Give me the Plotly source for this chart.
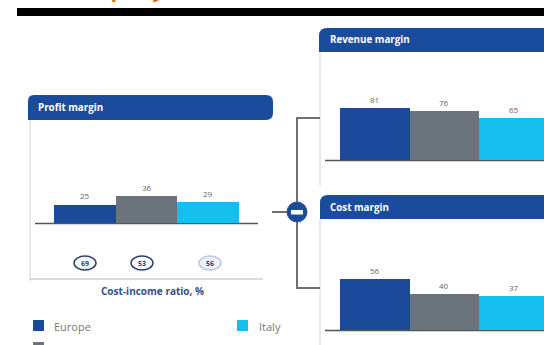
import plotly.graph_objects as go

# ---- data ----
series = ["Europe", "Peers", "Italy"]
colors = ["#1b4a9b", "#6b737c", "#14bfee"]
profit_margin = [25, 36, 29]
revenue_margin = [81, 76, 65]
cost_margin = [56, 40, 37]
cost_income_ratio = [69, 53, 56]

W, H = 544, 345
BLUE = "#1b4c9c"
FONT = "Open Sans"


def fx(x):
    return x / W


def fy(y):
    return 1 - y / H


fig = go.Figure()

# three bar panels, each on its own pair of axes
panels = [
    ("x", "y", profit_margin),
    ("x2", "y2", revenue_margin),
    ("x3", "y3", cost_margin),
]
for xa, ya, vals in panels:
    fig.add_trace(go.Bar(
        x=[0, 1, 2], y=vals, marker=dict(color=colors, line=dict(width=0)),
        xaxis=xa, yaxis=ya, showlegend=False, hoverinfo="skip",
    ))

hidden = dict(visible=False, showgrid=False, zeroline=False, fixedrange=True)
right_span = -0.5 + (544 - 340) / 69.5
fig.update_layout(
    width=W, height=H, margin=dict(l=0, r=0, t=0, b=0),
    paper_bgcolor="white", plot_bgcolor="rgba(0,0,0,0)", bargap=0,
    font=dict(family=FONT, color="#555"),
    xaxis=dict(domain=[fx(54), fx(239)], range=[-0.5, 2.5], anchor="y", **hidden),
    yaxis=dict(domain=[fy(223), fy(150)], range=[0, 73 / 0.74], anchor="x", **hidden),
    xaxis2=dict(domain=[fx(340), 1], range=[-0.5, right_span], anchor="y2", **hidden),
    yaxis2=dict(domain=[fy(160), fy(60)], range=[0, 100 / 0.64], anchor="x2", **hidden),
    xaxis3=dict(domain=[fx(340), 1], range=[-0.5, right_span], anchor="y3", **hidden),
    yaxis3=dict(domain=[fy(330), fy(225)], range=[0, 105 / 0.91], anchor="x3", **hidden),
)

ann = []


def label(x, y, text, size, color, xanchor="center", yanchor="middle"):
    ann.append(dict(x=fx(x), y=fy(y), xref="paper", yref="paper", text=text,
                    showarrow=False, xanchor=xanchor, yanchor=yanchor,
                    font=dict(size=size, color=color)))


# value labels above each bar
for xr, yr, vals in [("x", "y", profit_margin), ("x2", "y2", revenue_margin), ("x3", "y3", cost_margin)]:
    for i, v in enumerate(vals):
        ann.append(dict(x=i, y=v, xref=xr, yref=yr, text=str(v), showarrow=False,
                        xanchor="center", yanchor="bottom", yshift=1,
                        font=dict(size=8, color="#666")))

shapes = []


def line(x0, y0, x1, y1, color, width):
    shapes.append(dict(type="line", xref="paper", yref="paper",
                       x0=fx(x0), y0=fy(y0), x1=fx(x1), y1=fy(y1),
                       line=dict(color=color, width=width), layer="below"))


def rect(x0, y0, x1, y1, color):
    shapes.append(dict(type="rect", xref="paper", yref="paper",
                       x0=fx(x0), y0=fy(y0), x1=fx(x1), y1=fy(y1),
                       fillcolor=color, line=dict(width=0)))


def header(x0, y0, x1, y1, r_tl, r_tr, r_br):
    p = (f"M {fx(x0)} {fy(y1)} L {fx(x0)} {fy(y0 + r_tl)} "
         f"Q {fx(x0)} {fy(y0)} {fx(x0 + r_tl)} {fy(y0)} "
         f"L {fx(x1 - r_tr)} {fy(y0)} Q {fx(x1)} {fy(y0)} {fx(x1)} {fy(y0 + r_tr)} "
         f"L {fx(x1)} {fy(y1 - r_br)} Q {fx(x1)} {fy(y1)} {fx(x1 - r_br)} {fy(y1)} Z")
    shapes.append(dict(type="path", xref="paper", yref="paper", path=p,
                       fillcolor=BLUE, line=dict(width=0)))


# top rule
rect(17, 8, 544, 16, "black")

# panel frames
line(30, 120, 30, 281, "#d4d4d4", 1)
line(30, 279, 263, 279, "#b8b8b8", 1)
line(320, 52, 320, 186, "#d4d4d4", 1)
line(320, 219, 320, 345, "#d4d4d4", 1)

# bar baselines
line(35, 223.5, 258, 223.5, "#555", 1.5)
line(325, 160.5, 544, 160.5, "#555", 1.5)
line(325, 330.5, 544, 330.5, "#555", 1.5)

# headers
header(28, 95, 273, 120, 6, 7, 7)
header(319, 28, 560, 52, 8, 0, 0)
header(320, 195, 560, 219, 8, 0, 0)
label(36, 107.5, "<b>Profit margin</b>", 9.8, "white", xanchor="left")
label(328, 40, "<b>Revenue margin</b>", 9.8, "white", xanchor="left")
label(328, 207, "<b>Cost margin</b>", 9.8, "white", xanchor="left")

# bracket connecting the two right panels, with the minus node
line(297, 118, 297, 288, "#707070", 2)
line(296, 118, 320, 118, "#707070", 2)
line(296, 288, 320, 288, "#707070", 2)
line(272, 212, 288, 212, "#707070", 2)
shapes.append(dict(type="circle", xref="paper", yref="paper",
                   x0=fx(287), y0=fy(222), x1=fx(307), y1=fy(202),
                   fillcolor=BLUE, line=dict(color="#2c4f93", width=1)))
rect(291, 210, 303, 214.5, "white")

# cost-income ratio badges
cx = [85, 142, 210]
for i, (c, v) in enumerate(zip(cx, cost_income_ratio)):
    light = i == 2
    shapes.append(dict(type="circle", xref="paper", yref="paper",
                       x0=fx(c - 11), y0=fy(270), x1=fx(c + 11), y1=fy(256),
                       fillcolor="#eef3fb" if light else "white",
                       line=dict(color="#b9c8e6" if light else "#2d3f72", width=1.5)))
    label(c, 263, f"<b>{v}</b>", 7, "#2d3f72")
label(152, 291, "<b>Cost-income ratio, %</b>", 10, "#34508c")

# legend
legend_pos = [(33, 320, 52), (237, 320, 257), (33, 342, 52)]
order = [0, 2, 1]
for (lx, ly, tx), k in zip(legend_pos, order):
    rect(lx, ly, lx + 11, ly + 11, colors[k])
    label(tx, ly + 6, series[k], 11, "#777", xanchor="left")

# page title running off the top edge
label(62, 5, "<b>company</b>", 22, "#f26b1d", xanchor="left", yanchor="bottom")

fig.update_layout(shapes=shapes, annotations=ann)
fig.write_html("out.html")
